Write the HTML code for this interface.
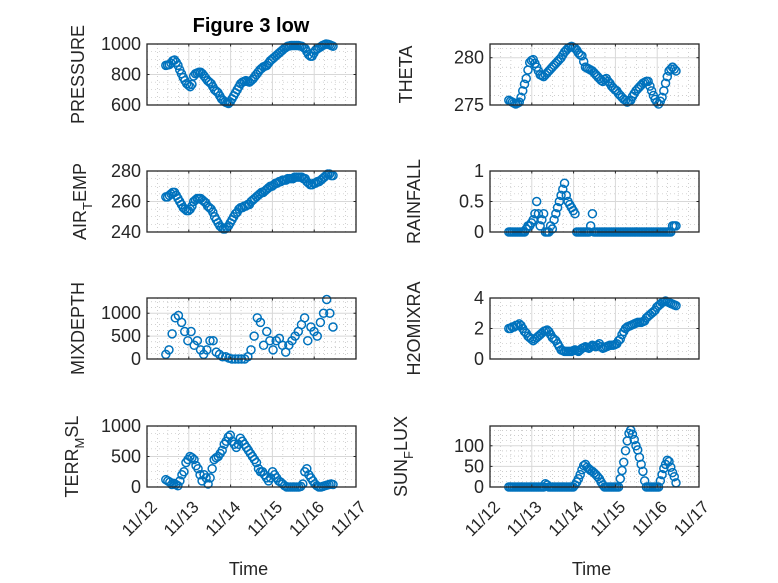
<!DOCTYPE html>
<html><head><meta charset="utf-8"><style>
body{margin:0;background:#fff;}
svg{display:block;font-family:"Liberation Sans","DejaVu Sans",sans-serif;}
</style></head><body>
<svg id="fig" width="778" height="583" viewBox="0 0 778 583" xmlns="http://www.w3.org/2000/svg">
<rect width="778" height="583" fill="#fff"/>
<text x="251" y="32" font-size="20" font-weight="bold" text-anchor="middle" fill="#000">Figure 3 low</text>
</svg>
<script>
const xTickLabels = ["11/12","11/13","11/14","11/15","11/16","11/17"];
const tStart = 12.45, tEnd = 16.45;
const pressure = [860,862,865,875,890,895,880,860,830,805,780,760,740,730,720,735,790,805,810,815,815,805,790,775,760,750,740,720,700,690,680,660,640,630,620,615,610,620,640,660,680,700,720,740,750,755,760,755,750,760,770,785,800,815,830,840,850,855,860,875,890,900,910,920,930,940,950,960,970,978,985,988,990,990,990,990,990,988,985,978,970,950,930,920,920,940,960,968,975,982,990,995,1000,998,995,990,985];
const airTemp = [263,263,264,265,266,266,264,262,260,258,256,255,254,254,255,257,260,261,262,262,262,261,260,259,257,256,255,253,250,248,246,244,243,242,242,243,244,246,248,250,252,253,255,256,256,257,257,258,258,260,261,262,263,264,265,266,266,267,268,269,270,270,271,272,272,273,273,274,274,274,275,275,275,275,276,276,276,276,276,275,275,273,272,271,271,272,272,273,273,274,275,276,277,278,278,277,277];
const theta = [275.5,275.4,275.3,275.2,275.1,275.2,275.3,275.8,276.5,277.2,277.8,278.7,279.5,279.7,279.8,279.4,279.0,278.6,278.2,278.1,278.0,278.2,278.4,278.6,278.8,279.0,279.2,279.4,279.6,279.8,280.0,280.3,280.6,280.8,281.0,281.1,281.2,281.1,281.0,280.8,280.5,280.3,280.2,279.6,279.0,278.9,278.8,278.7,278.6,278.4,278.2,278.0,277.8,277.6,277.5,277.7,277.8,277.5,277.3,277.0,276.8,276.6,276.5,276.2,276.0,275.8,275.6,275.5,275.3,275.4,275.5,275.9,276.2,276.5,276.7,276.9,277.1,277.3,277.4,277.5,277.5,277.0,276.5,276.0,275.6,275.3,275.1,275.4,275.8,276.5,277.3,278.0,278.6,278.8,279.0,278.8,278.6];
const rainfall = [0,0,0,0,0,0,0,0,0,0,0.05,0.1,0.1,0.15,0.2,0.3,0.5,0.3,0.1,0.2,0.3,0,0,0,0.1,0.05,0.2,0.3,0.4,0.5,0.6,0.7,0.8,0.6,0.5,0.45,0.4,0.35,0.3,0,0,0,0,0,0,0,0,0.1,0.3,0,0,0,0,0,0,0,0,0,0,0,0,0,0,0,0,0,0,0,0,0,0,0,0,0,0,0,0,0,0,0,0,0,0,0,0,0,0,0,0,0,0,0,0,0,0.1,0.1,0.1];
const mixDepth = [100,200,550,900,950,800,600,400,600,300,400,200,100,200,400,400,150,100,50,50,20,0,0,0,0,0,50,200,500,900,800,300,600,400,200,400,450,300,150,300,400,500,600,750,900,400,700,600,500,800,1000,1300,1000,700];
const h2oMix = [2.0,2.0,2.1,2.1,2.2,2.2,2.3,2.2,2.0,1.8,1.7,1.5,1.4,1.3,1.2,1.3,1.4,1.5,1.6,1.7,1.8,1.85,1.9,1.8,1.6,1.4,1.3,1.2,1.0,0.8,0.6,0.55,0.5,0.5,0.5,0.5,0.5,0.55,0.6,0.55,0.5,0.6,0.7,0.75,0.8,0.75,0.7,0.8,0.9,0.85,0.8,0.9,1.0,0.8,0.7,0.75,0.8,0.85,0.9,0.9,0.9,0.95,1.0,1.2,1.3,1.6,1.8,2.0,2.1,2.15,2.2,2.25,2.3,2.35,2.4,2.4,2.4,2.45,2.5,2.7,2.8,2.9,3.0,3.1,3.2,3.4,3.5,3.6,3.7,3.75,3.8,3.75,3.7,3.65,3.6,3.55,3.5];
const terrMsl = [120,100,80,40,60,40,20,100,200,250,400,450,500,480,450,350,300,200,100,200,150,50,150,300,450,480,500,550,600,700,750,820,850,750,700,650,700,800,750,700,650,600,550,500,450,400,300,250,250,200,150,100,150,250,200,150,100,80,50,20,0,0,0,0,0,0,0,10,50,250,300,200,150,100,50,20,0,0,10,20,30,40,50,40];
const sunFlux = [0,0,0,0,0,0,0,0,0,0,0,0,0,0,0,0,0,0,0,0,0,8,5,0,0,0,0,0,0,0,0,0,0,0,0,0,0,0,5,12,20,30,42,52,55,48,44,40,38,34,30,25,20,12,5,0,0,0,0,0,0,0,0,0,20,40,60,88,112,130,138,128,115,100,90,72,55,38,15,0,0,0,0,0,0,0,0,15,30,45,55,65,62,48,35,25,10];

const SVGNS = "http://www.w3.org/2000/svg";
const svg = document.getElementById('fig');
function mk(tag, attrs, parent){const e=document.createElementNS(SVGNS,tag);for(const k in attrs)e.setAttribute(k,attrs[k]);(parent||svg).appendChild(e);return e;}

const W = 209, H = 61;
const panels = [
 {name:"pressure",x:147,y:44,data:pressure,ymin:600,ymax:1000,ticks:[600,800,1000],minor:50,label:["PRESSURE"],lx:84,xt:false},
 {name:"theta",x:490,y:44,data:theta,ymin:275,ymax:281.45,ticks:[275,280],minor:1,label:["THETA"],lx:412,xt:false},
 {name:"air-temp",x:147,y:171,data:airTemp,ymin:240,ymax:280,ticks:[240,260,280],minor:5,label:["AIR","T","EMP"],lx:86,xt:false},
 {name:"rainfall",x:490,y:171,data:rainfall,ymin:0,ymax:1,ticks:[0,0.5,1],minor:0.125,label:["RAINFALL"],lx:420,xt:false},
 {name:"mixdepth",x:147,y:298,data:mixDepth,ymin:0,ymax:1333,ticks:[0,500,1000],minor:125,label:["MIXDEPTH"],lx:84,xt:false},
 {name:"h2omixra",x:490,y:298,data:h2oMix,ymin:0,ymax:4,ticks:[0,2,4],minor:0.5,label:["H2OMIXRA"],lx:420,xt:false},
 {name:"terr-msl",x:147,y:426,data:terrMsl,ymin:0,ymax:1000,ticks:[0,500,1000],minor:125,label:["TERR","M","SL"],lx:78,xt:true},
 {name:"sun-flux",x:490,y:426,data:sunFlux,ymin:0,ymax:148,ticks:[0,50,100],minor:12.5,label:["SUN","F","LUX"],lx:407,xt:true}
];

panels.forEach(p=>{
  const g = mk('g',{});
  
  
  const xs = t => p.x + (t-12)/5*W;
  const ys = v => p.y + H - (v-p.ymin)/(p.ymax-p.ymin)*H;
  mk('rect',{x:p.x,y:p.y,width:W,height:H,fill:'#fff'},g);
  for(let d=12; d<17; d+=0.25){ if(Math.abs(d-Math.round(d))<1e-6) continue;
    mk('line',{x1:xs(d),x2:xs(d),y1:p.y,y2:p.y+H,stroke:'#b0b0b0','stroke-width':0.6,'stroke-dasharray':'1 3'},g);}
  for(let v=p.ymin; v<=p.ymax+1e-9; v+=p.minor){ if(p.ticks.some(t=>Math.abs(t-v)<1e-9)) continue;
    mk('line',{x1:p.x,x2:p.x+W,y1:ys(v),y2:ys(v),stroke:'#b0b0b0','stroke-width':0.6,'stroke-dasharray':'1 3'},g);}
  for(let d=13; d<17; d++) mk('line',{x1:xs(d),x2:xs(d),y1:p.y,y2:p.y+H,stroke:'#d8d8d8','stroke-width':1},g);
  p.ticks.forEach(v=>mk('line',{x1:p.x,x2:p.x+W,y1:ys(v),y2:ys(v),stroke:'#d8d8d8','stroke-width':1},g));
  const n = p.data.length;
  p.data.forEach((v,i)=>{
    const t = tStart + i*(tEnd-tStart)/(n-1);
    const c = mk('circle',{cx:xs(t),cy:ys(v),r:4,fill:'none',stroke:'#0072BD','stroke-width':1.5},g);
    
    
  });
  mk('rect',{x:p.x,y:p.y,width:W,height:H,fill:'none',stroke:'#262626','stroke-width':1.3},g);
  for(let d=12; d<=17; d++){
    mk('line',{x1:xs(d),x2:xs(d),y1:p.y+H,y2:p.y+H-2.5,stroke:'#262626'},g);
    mk('line',{x1:xs(d),x2:xs(d),y1:p.y,y2:p.y+2.5,stroke:'#262626'},g);
  }
  if(p.xt){
    xTickLabels.forEach((lab,k)=>{
      const tx = xs(12+k)+11, ty = p.y+H+21;
      const t = mk('text',{x:tx,y:ty,'font-size':17,fill:'#262626','text-anchor':'end',transform:`rotate(-45 ${tx} ${ty})`},g);
      t.textContent = lab;
      
      
    });
    const xl = mk('text',{x:p.x+W/2-3,y:575,'font-size':18,fill:'#262626','text-anchor':'middle'},g);
    xl.textContent = 'Time';
    
    
  }
  p.ticks.forEach(v=>{
    mk('line',{x1:p.x,x2:p.x+2.5,y1:ys(v),y2:ys(v),stroke:'#262626'},g);
    mk('line',{x1:p.x+W,x2:p.x+W-2.5,y1:ys(v),y2:ys(v),stroke:'#262626'},g);
    const t = mk('text',{x:p.x-6,y:ys(v)+6,'font-size':18,fill:'#262626','text-anchor':'end'},g);
    t.textContent = String(v);
    
    
  });
  const cy = p.y + H/2;
  const yl = mk('text',{x:p.lx,y:cy,'font-size':18,fill:'#262626','text-anchor':'middle',transform:`rotate(-90 ${p.lx} ${cy})`},g);
  
  
  if(p.label.length===1){ yl.textContent = p.label[0]; }
  else {
    const a = mk('tspan',{},yl); a.textContent = p.label[0];
    const b = mk('tspan',{dy:6,'font-size':13},yl); b.textContent = p.label[1];
    const c = mk('tspan',{dy:-6},yl); c.textContent = p.label[2];
  }
});
</script>
</body></html>
